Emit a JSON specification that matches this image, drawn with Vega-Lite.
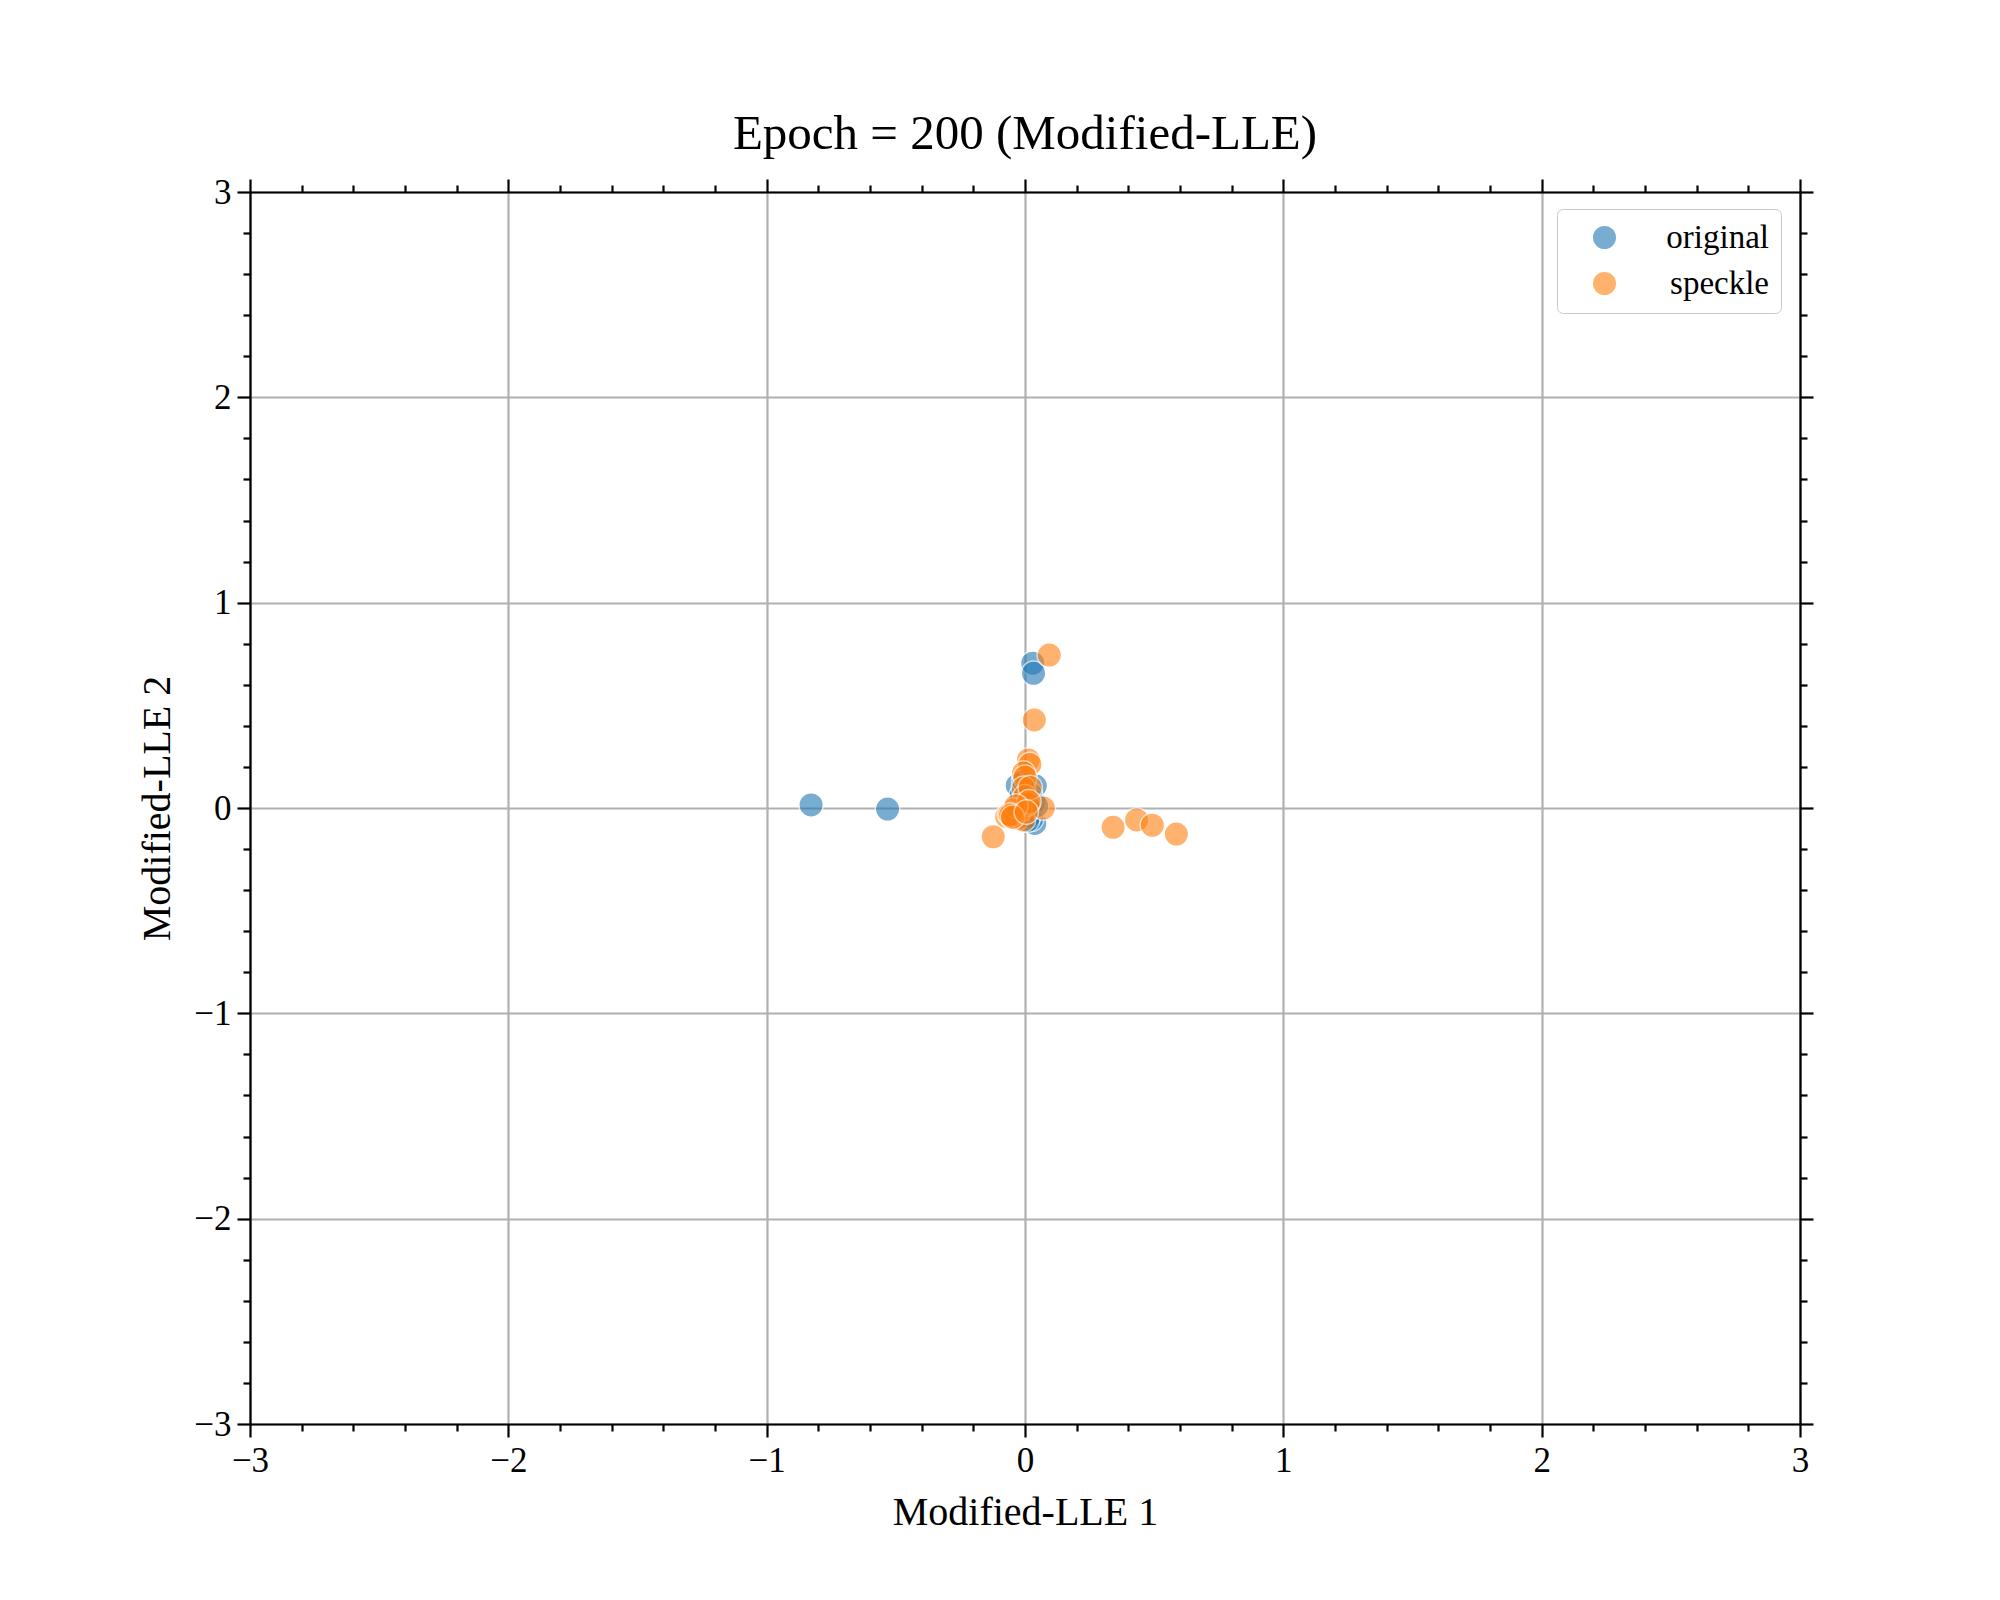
{
  "$schema": "https://vega.github.io/schema/vega-lite/v6.json",
  "width": 1550,
  "height": 1232,
  "autosize": {"type": "none"},
  "padding": {"left": 250, "top": 192, "right": 200, "bottom": 176},
  "background": "white",
  "title": {
    "text": "Epoch = 200 (Modified-LLE)",
    "font": "Liberation Serif",
    "fontSize": 49,
    "fontWeight": "normal",
    "color": "black",
    "anchor": "middle",
    "offset": 16
  },
  "config": {
    "view": {"stroke": null},
    "axis": {
      "domainColor": "black",
      "domainWidth": 2.2,
      "tickColor": "black",
      "tickWidth": 2.2,
      "gridColor": "#b0b0b0",
      "gridWidth": 2.2,
      "labelFont": "Liberation Serif",
      "labelFontSize": 35,
      "labelColor": "black",
      "titleFont": "Liberation Serif",
      "titleFontSize": 40,
      "titleFontWeight": "normal",
      "titleColor": "black"
    }
  },
  "data": {
    "values": [
      {"group": "original", "x": -0.828, "y": 0.015},
      {"group": "original", "x": -0.532, "y": -0.005},
      {"group": "original", "x": 0.030, "y": 0.705},
      {"group": "original", "x": 0.033, "y": 0.656},
      {"group": "original", "x": 0.040, "y": 0.108},
      {"group": "original", "x": -0.030, "y": 0.110},
      {"group": "original", "x": 0.038, "y": -0.075},
      {"group": "original", "x": 0.025, "y": -0.055},
      {"group": "original", "x": 0.010, "y": 0.020},
      {"group": "original", "x": -0.010, "y": -0.030},
      {"group": "original", "x": 0.000, "y": 0.050},
      {"group": "original", "x": 0.025, "y": 0.000},
      {"group": "original", "x": -0.020, "y": 0.000},
      {"group": "original", "x": 0.015, "y": -0.040},
      {"group": "original", "x": 0.005, "y": 0.080},
      {"group": "original", "x": -0.015, "y": 0.060},
      {"group": "original", "x": 0.035, "y": 0.030},
      {"group": "original", "x": 0.000, "y": -0.020},
      {"group": "original", "x": -0.030, "y": -0.020},
      {"group": "original", "x": 0.020, "y": 0.070},
      {"group": "original", "x": 0.010, "y": -0.060},
      {"group": "original", "x": 0.045, "y": 0.010},
      {"group": "original", "x": -0.005, "y": 0.130},
      {"group": "speckle", "x": 0.094, "y": 0.745},
      {"group": "speckle", "x": 0.036, "y": 0.429},
      {"group": "speckle", "x": 0.013, "y": 0.234},
      {"group": "speckle", "x": 0.019, "y": 0.212},
      {"group": "speckle", "x": -0.006, "y": 0.170},
      {"group": "speckle", "x": 0.000, "y": 0.150},
      {"group": "speckle", "x": -0.006, "y": 0.096},
      {"group": "speckle", "x": 0.000, "y": 0.055},
      {"group": "speckle", "x": 0.071, "y": 0.000},
      {"group": "speckle", "x": -0.052, "y": -0.026},
      {"group": "speckle", "x": -0.071, "y": -0.042},
      {"group": "speckle", "x": -0.050, "y": -0.040},
      {"group": "speckle", "x": -0.040, "y": -0.030},
      {"group": "speckle", "x": -0.030, "y": -0.050},
      {"group": "speckle", "x": -0.006, "y": -0.058},
      {"group": "speckle", "x": -0.020, "y": -0.010},
      {"group": "speckle", "x": 0.010, "y": 0.020},
      {"group": "speckle", "x": -0.045, "y": -0.010},
      {"group": "speckle", "x": -0.060, "y": -0.030},
      {"group": "speckle", "x": -0.123, "y": -0.140},
      {"group": "speckle", "x": 0.341, "y": -0.094},
      {"group": "speckle", "x": 0.432, "y": -0.058},
      {"group": "speckle", "x": 0.493, "y": -0.084},
      {"group": "speckle", "x": 0.586, "y": -0.127},
      {"group": "speckle", "x": 0.020, "y": 0.100},
      {"group": "speckle", "x": 0.015, "y": 0.030},
      {"group": "speckle", "x": -0.035, "y": 0.010},
      {"group": "speckle", "x": -0.055, "y": -0.035},
      {"group": "speckle", "x": -0.048, "y": -0.045},
      {"group": "speckle", "x": 0.005, "y": -0.020}
    ]
  },
  "layer": [
    {
      "transform": [{"filter": "datum.group === 'original'"}],
      "mark": {"type": "point", "shape": "circle", "filled": true, "size": 600, "opacity": 0.6, "stroke": "white", "strokeWidth": 1.5},
      "encoding": {
        "x": {
          "field": "x", "type": "quantitative",
          "scale": {"domain": [-3, 3], "nice": false, "zero": false},
          "axis": {
            "orient": "bottom",
            "title": "Modified-LLE 1",
            "values": [-3, -2.8, -2.6, -2.4, -2.2, -2, -1.8, -1.6, -1.4, -1.2, -1, -0.8, -0.6, -0.4, -0.2, 0, 0.2, 0.4, 0.6, 0.8, 1, 1.2, 1.4, 1.6, 1.8, 2, 2.2, 2.4, 2.6, 2.8, 3],
            "labelExpr": "abs(datum.value - round(datum.value)) < 0.001 ? format(datum.value, 'd') : ''",
            "tickSize": {"condition": {"test": "abs(datum.value - round(datum.value)) < 0.001", "value": 13}, "value": 7},
            "gridOpacity": {"condition": {"test": "abs(datum.value - round(datum.value)) < 0.001", "value": 1}, "value": 0},
            "grid": true,
            "labelPadding": 6,
            "labelFlush": false,
            "labelOverlap": false,
            "titlePadding": 14
          }
        },
        "y": {
          "field": "y", "type": "quantitative",
          "scale": {"domain": [-3, 3], "nice": false, "zero": false},
          "axis": {
            "orient": "left",
            "title": "Modified-LLE 2",
            "values": [-3, -2.8, -2.6, -2.4, -2.2, -2, -1.8, -1.6, -1.4, -1.2, -1, -0.8, -0.6, -0.4, -0.2, 0, 0.2, 0.4, 0.6, 0.8, 1, 1.2, 1.4, 1.6, 1.8, 2, 2.2, 2.4, 2.6, 2.8, 3],
            "labelExpr": "abs(datum.value - round(datum.value)) < 0.001 ? format(datum.value, 'd') : ''",
            "tickSize": {"condition": {"test": "abs(datum.value - round(datum.value)) < 0.001", "value": 13}, "value": 7},
            "gridOpacity": {"condition": {"test": "abs(datum.value - round(datum.value)) < 0.001", "value": 1}, "value": 0},
            "grid": true,
            "labelPadding": 6,
            "labelFlush": false,
            "labelOverlap": false,
            "titlePadding": 16
          }
        },
        "color": {
          "field": "group", "type": "nominal",
          "scale": {"domain": ["original", "speckle"], "range": ["#1f77b4", "#ff7f0e"]},
          "legend": {
            "title": null,
            "orient": "none",
            "legendX": 1307,
            "legendY": 17,
            "padding": 12,
            "fillColor": "rgba(255,255,255,0.8)",
            "strokeColor": "#c8c8c8",
            "cornerRadius": 6,
            "symbolType": "circle",
            "symbolSize": 600,
            "symbolOpacity": 0.6,
            "symbolStrokeColor": "white",
            "symbolStrokeWidth": 1.5,
            "symbolOffset": 19,
            "labelFont": "Liberation Serif",
            "labelFontSize": 33,
            "labelColor": "black",
            "labelAlign": "right",
            "labelOffset": 148,
            "rowPadding": 12
          }
        }
      }
    },
    {
      "transform": [{"filter": "datum.group === 'speckle'"}],
      "mark": {"type": "point", "shape": "circle", "filled": true, "size": 600, "opacity": 0.6, "stroke": "white", "strokeWidth": 1.5},
      "encoding": {
        "x": {
          "field": "x", "type": "quantitative",
          "axis": {
            "orient": "top",
            "title": null,
            "values": [-3, -2.8, -2.6, -2.4, -2.2, -2, -1.8, -1.6, -1.4, -1.2, -1, -0.8, -0.6, -0.4, -0.2, 0, 0.2, 0.4, 0.6, 0.8, 1, 1.2, 1.4, 1.6, 1.8, 2, 2.2, 2.4, 2.6, 2.8, 3],
            "labels": false,
            "grid": false,
            "tickSize": {"condition": {"test": "abs(datum.value - round(datum.value)) < 0.001", "value": 13}, "value": 7}
          }
        },
        "y": {
          "field": "y", "type": "quantitative",
          "axis": {
            "orient": "right",
            "title": null,
            "values": [-3, -2.8, -2.6, -2.4, -2.2, -2, -1.8, -1.6, -1.4, -1.2, -1, -0.8, -0.6, -0.4, -0.2, 0, 0.2, 0.4, 0.6, 0.8, 1, 1.2, 1.4, 1.6, 1.8, 2, 2.2, 2.4, 2.6, 2.8, 3],
            "labels": false,
            "grid": false,
            "tickSize": {"condition": {"test": "abs(datum.value - round(datum.value)) < 0.001", "value": 13}, "value": 7}
          }
        },
        "color": {"field": "group", "type": "nominal"}
      }
    }
  ],
  "resolve": {"axis": {"x": "independent", "y": "independent"}}
}
